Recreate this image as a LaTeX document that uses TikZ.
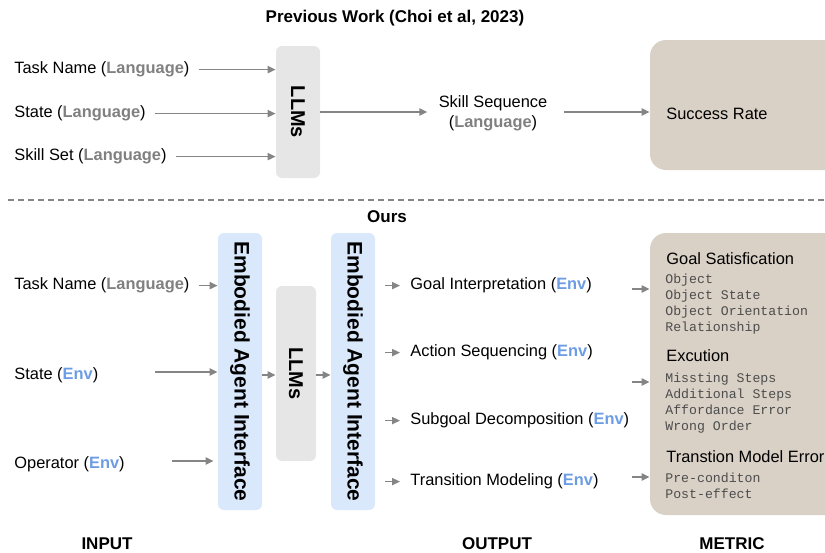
\documentclass[tikz,border=0pt]{standalone}
\usepackage{fontspec}
\setmainfont{Liberation Sans}
\setmonofont{Liberation Mono}
\usetikzlibrary{arrows.meta}

\definecolor{llmgray}{HTML}{E6E6E6}
\definecolor{eaiblue}{HTML}{DAE8FC}
\definecolor{metricbeige}{HTML}{D9D0C6}
\definecolor{langgray}{HTML}{808080}
\definecolor{envblue}{HTML}{6C9CE3}
\definecolor{linegray}{HTML}{858585}
\definecolor{monogray}{HTML}{4D4D4D}

\newcommand{\langtag}{(\textbf{\textcolor{langgray}{Language}})}
\newcommand{\envtag}{(\textbf{\textcolor{envblue}{Env}})}

\tikzset{
    flow/.style = {draw=linegray, line width=0.75pt, -{Triangle[length=4pt,width=3.6pt]}},
    lbl/.style = {anchor=west, inner sep=0pt, yshift=-0.8pt, font=\fontsize{8.2}{10}\selectfont},
    head/.style = {inner sep=0pt, yshift=-0.8pt, font=\fontsize{8.5}{10}\selectfont\bfseries},
    llmbox/.style = {fill=llmgray, rounded corners=3pt, inner sep=0pt, font=\fontsize{10}{12}\selectfont\bfseries},
    eaibox/.style = {fill=eaiblue, rounded corners=3pt, inner sep=0pt, font=\fontsize{10.5}{12}\selectfont\bfseries},
    metricbox/.style = {fill=metricbeige, rounded corners=8pt, inner sep=0pt},
    metriclist/.style = {anchor=west, inner sep=0pt, yshift=-0.8pt, align=left, text=monogray, font=\fontsize{6.6}{8}\selectfont\ttfamily}
}

\begin{document}
\begin{tikzpicture}[x=0.5pt, y=-0.5pt]
    \useasboundingbox (0,0) rectangle (825,552);
    \clip (0,0) rectangle (825,552);

    %% previous work
    \node[head] (prevtitle) at (395,17) {Previous Work (Choi et al, 2023)};
    \node[llmbox, minimum width=22pt, minimum height=66pt] (llmA) at (298,112) {\rotatebox{-90}{LLMs}};
    \node[lbl] (tnA) at (14,68) {Task Name \langtag};
    \node[lbl] (stA) at (14,112) {State \langtag};
    \node[lbl] (ssA) at (14,155) {Skill Set \langtag};
    \node[lbl, anchor=center, align=center, font=\fontsize{8.2}{10}\selectfont] (seq) at (493,112) {Skill Sequence\\\langtag};
    \node[metricbox, minimum width=110pt, minimum height=65pt] (srbox) at (760,105) {};
    \node[lbl] (sr) at (666,112) {Success Rate};

    \draw[flow] ([xshift=4.5pt]tnA.east) -- (llmA.west |- tnA.east);
    \draw[flow] ([xshift=4.5pt]stA.east) -- (llmA.west |- stA.east);
    \draw[flow] ([xshift=4.5pt]ssA.east) -- (llmA.west |- ssA.east);
    \draw[flow] (llmA.east |- 0,112) -- ([xshift=-5.5pt]seq.west |- 0,112);
    \draw[flow] ([xshift=8pt]seq.east |- 0,112) -- (srbox.west |- 0,112);

    \draw[linegray, line width=0.6pt, dash pattern=on 3pt off 2pt] (8,200) -- (825,200);

    %% ours
    \node[head] (ourstitle) at (387,215) {Ours};
    \node[eaibox, minimum width=22pt, minimum height=138.5pt] (eaiA) at (240,371.5) {\rotatebox{-90}{Embodied Agent Interface}};
    \node[llmbox, minimum width=20pt, minimum height=87.5pt] (llmB) at (296,373.5) {\rotatebox{-90}{LLMs}};
    \node[eaibox, minimum width=22pt, minimum height=138.5pt] (eaiB) at (353,371.5) {\rotatebox{-90}{Embodied Agent Interface}};

    \node[lbl] (tnB) at (14,284) {Task Name \langtag};
    \node[lbl] (stB) at (14,374) {State \envtag};
    \node[lbl] (opB) at (14,463) {Operator \envtag};
    \coordinate (stBout) at (155,372);
    \coordinate (opBout) at (172,461);

    \draw[flow] ([xshift=4.5pt]tnB.east) -- (eaiA.west |- tnB.east);
    \draw[flow] (stBout) -- (eaiA.west |- stBout);
    \draw[flow] (opBout) -- ([xshift=-2pt]eaiA.west |- opBout);
    \draw[flow] (eaiA.east |- 0,375) -- (llmB.west |- 0,375);
    \draw[flow] (llmB.east |- 0,375) -- (eaiB.west |- 0,375);

    \node[lbl] (gi) at (410,284) {Goal Interpretation \envtag};
    \node[lbl] (as) at (410,351) {Action Sequencing \envtag};
    \node[lbl] (sd) at (410,419) {Subgoal Decomposition \envtag};
    \node[lbl] (tm) at (410,480) {Transition Modeling \envtag};
    \foreach \out in {gi,as,sd,tm}
        \draw[flow] ([xshift=5pt]eaiB.east |- \out.west) -- ([xshift=-5pt]\out.west);

    \node[metricbox, minimum width=110pt, minimum height=141pt] (metric) at (760,374) {};
    \node[lbl] (gs) at (666,257) {Goal Satisfication};
    \node[metriclist] (gslist) at (665,302.5) {Object\\Object State\\Object Orientation\\Relationship};
    \node[lbl] (ex) at (666,354) {Excution};
    \node[metriclist] (exlist) at (665,401.5) {Missting Steps\\Additional Steps\\Affordance Error\\Wrong Order};
    \node[lbl] (tme) at (666,455) {Transtion Model Error};
    \node[metriclist] (tmelist) at (665,484) {Pre-conditon\\Post-effect};
    \coordinate (mA) at (632,289);
    \coordinate (mB) at (632,382);
    \coordinate (mC) at (632,477);
    \foreach \m in {mA,mB,mC}
        \draw[flow] (\m) -- (metric.west |- \m);

    %% column captions
    \node[head] (inputcap) at (107,542) {INPUT};
    \node[head] (outputcap) at (497,542) {OUTPUT};
    \node[head] (metriccap) at (732,542) {METRIC};
\end{tikzpicture}
\end{document}
